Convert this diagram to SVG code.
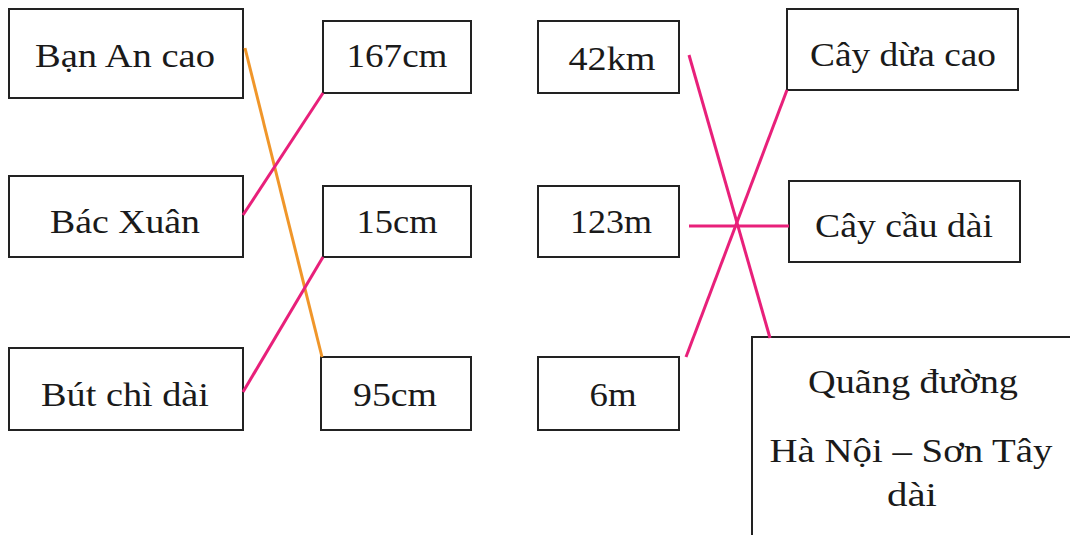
<svg xmlns="http://www.w3.org/2000/svg" width="1070" height="535" viewBox="0 0 1070 535">
<style>
.box{fill:#fff;stroke:#222;stroke-width:2}
.t{font-family:"Liberation Serif","Times New Roman",serif;font-size:33px;fill:#1a1a1a;text-anchor:middle}
.pk{stroke:#e8207a;stroke-width:3;fill:none}
.or{stroke:#f0962a;stroke-width:3;fill:none}
</style>
<rect width="1070" height="535" fill="#fff"/>
<g id="n1"><rect class="box" x="9" y="9" width="234" height="89"/><text class="t" x="125" y="67" textLength="180" lengthAdjust="spacingAndGlyphs">Bạn An cao</text></g>
<g id="n2"><rect class="box" x="9" y="176" width="234" height="81"/><text class="t" x="125" y="233" textLength="150" lengthAdjust="spacingAndGlyphs">Bác Xuân</text></g>
<g id="n3"><rect class="box" x="9" y="348" width="234" height="82"/><text class="t" x="125" y="406" textLength="168" lengthAdjust="spacingAndGlyphs">Bút chì dài</text></g>
<g id="n4"><rect class="box" x="323" y="21" width="148" height="72"/><text class="t" x="397" y="67" textLength="101" lengthAdjust="spacingAndGlyphs">167cm</text></g>
<g id="n5"><rect class="box" x="323" y="186" width="148" height="71"/><text class="t" x="397" y="233" textLength="81" lengthAdjust="spacingAndGlyphs">15cm</text></g>
<g id="n6"><rect class="box" x="321" y="357" width="150" height="73"/><text class="t" x="395" y="406" textLength="84" lengthAdjust="spacingAndGlyphs">95cm</text></g>
<g id="n7"><rect class="box" x="538" y="21" width="141" height="72"/><text class="t" x="612" y="70" textLength="87" lengthAdjust="spacingAndGlyphs">42km</text></g>
<g id="n8"><rect class="box" x="538" y="186" width="141" height="71"/><text class="t" x="611" y="233" textLength="82" lengthAdjust="spacingAndGlyphs">123m</text></g>
<g id="n9"><rect class="box" x="538" y="357" width="141" height="73"/><text class="t" x="613" y="406" textLength="47" lengthAdjust="spacingAndGlyphs">6m</text></g>
<g id="n10"><rect class="box" x="787" y="9" width="231" height="81"/><text class="t" x="903" y="66" textLength="186" lengthAdjust="spacingAndGlyphs">Cây dừa cao</text></g>
<g id="n11"><rect class="box" x="789" y="181" width="231" height="81"/><text class="t" x="904" y="237" textLength="178" lengthAdjust="spacingAndGlyphs">Cây cầu dài</text></g>
<g id="n12"><rect class="box" x="752" y="337" width="330" height="210"/><text class="t" x="913" y="393" textLength="210" lengthAdjust="spacingAndGlyphs">Quãng đường</text><text class="t" x="911" y="462" textLength="283" lengthAdjust="spacingAndGlyphs">Hà Nội – Sơn Tây</text><text class="t" x="912" y="506" textLength="50" lengthAdjust="spacingAndGlyphs">dài</text></g>
<g id="connectors">
<line class="or" x1="245" y1="48" x2="322" y2="357"/>
<line class="pk" x1="243" y1="215" x2="323" y2="93"/>
<line class="pk" x1="243" y1="392" x2="323" y2="257"/>
<line class="pk" x1="689" y1="55" x2="770" y2="338"/>
<line class="pk" x1="787" y1="90" x2="686" y2="357"/>
<line class="pk" x1="689" y1="226" x2="789" y2="226"/>
</g>
</svg>
